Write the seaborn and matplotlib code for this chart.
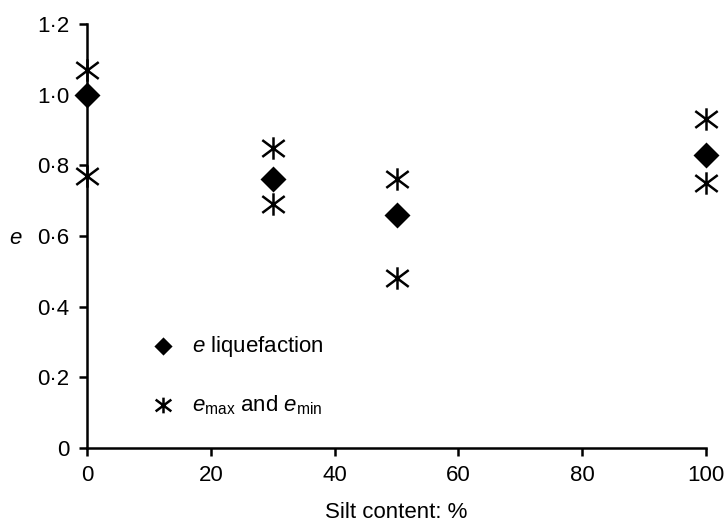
import matplotlib
matplotlib.use("Agg")
import matplotlib.pyplot as plt
import matplotlib.ticker as mticker
from matplotlib.path import Path
import pandas as pd
import seaborn as sns

silt_liq = [0, 30, 50, 100]
e_liq = [1.00, 0.76, 0.66, 0.83]

silt_lim = [0, 0, 30, 30, 50, 50, 100, 100]
e_lim = [1.07, 0.77, 0.85, 0.69, 0.76, 0.48, 0.93, 0.75]

x_ticks = [0, 20, 40, 60, 80, 100]
y_ticks = [0, 0.2, 0.4, 0.6, 0.8, 1.0, 1.2]

# asterisk: vertical stroke crossed by a flat X
star = Path(
    [(0, -1), (0, 1), (-1, -0.75), (1, 0.75), (-1, 0.75), (1, -0.75)],
    [Path.MOVETO, Path.LINETO, Path.MOVETO, Path.LINETO, Path.MOVETO, Path.LINETO],
)

sns.set_theme(style="ticks")
plt.rcParams["font.family"] = ["Liberation Sans", "DejaVu Sans"]
plt.rcParams["mathtext.fontset"] = "custom"
plt.rcParams["mathtext.rm"] = "Liberation Sans"
plt.rcParams["mathtext.it"] = "Liberation Sans:italic"
plt.rcParams["text.color"] = "black"
plt.rcParams["axes.labelcolor"] = "black"

df_liq = pd.DataFrame({"silt": silt_liq, "e": e_liq})
df_lim = pd.DataFrame({"silt": silt_lim, "e": e_lim})

fig = plt.figure(figsize=(7.25, 5.23), dpi=100)
ax = fig.add_axes([0.12, 0.1434, 0.8538, 0.8107])

sns.scatterplot(data=df_liq, x="silt", y="e", ax=ax, marker="D", s=175,
                color="black", edgecolor="black", linewidth=0,
                label="$e$ liquefaction", clip_on=False, zorder=3)
sns.scatterplot(data=df_lim, x="silt", y="e", ax=ax, marker=star, s=260,
                color="black", edgecolor="black", linewidth=1.8,
                label=r"$e_{\mathrm{max}}$ and $e_{\mathrm{min}}$",
                clip_on=False, zorder=3)

ax.set_xlim(0, 100)
ax.set_ylim(0, 1.2)
ax.set_xticks(x_ticks)
ax.set_yticks(y_ticks)
ax.yaxis.set_major_formatter(
    mticker.FuncFormatter(lambda v, p: "0" if v == 0 else f"{v:.1f}".replace(".", "\u00b7")))
ax.tick_params(labelsize=16, length=6, width=1.8, pad=6.5, color="black", labelcolor="black")
for s in ["left", "bottom"]:
    ax.spines[s].set_linewidth(1.8)
    ax.spines[s].set_color("black")
sns.despine(ax=ax)

ax.set_xlabel("Silt content: %", fontsize=16, va="center")
ax.xaxis.set_label_coords(0.5, -0.153)
ax.set_ylabel("$e$", fontsize=16, rotation=0, va="center", ha="center")
ax.yaxis.set_label_coords(-0.115, 0.495)

ax.legend(loc="upper left", bbox_to_anchor=(0.105, 0.27), frameon=False,
          fontsize=16, labelspacing=1.55, handlelength=1.0, handletextpad=0.8,
          borderpad=0, borderaxespad=0, markerscale=0.7)

fig.savefig("out.png", dpi=100)
